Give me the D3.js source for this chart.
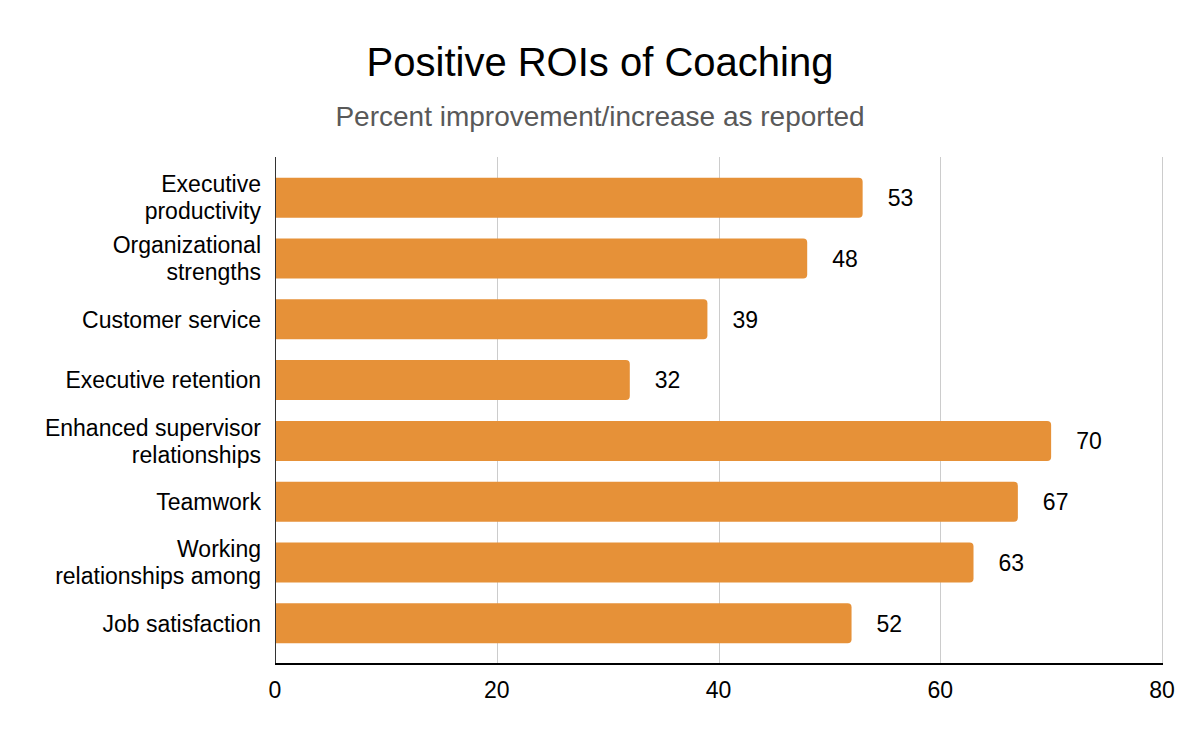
<!DOCTYPE html>
<html>
<head>
<meta charset="utf-8">
<script src="https://cdn.jsdelivr.net/npm/d3@7"></script>
<style>
  body { margin: 0; background: #fff; }
  text { font-family: "Liberation Sans", Arial, sans-serif; }
</style>
</head>
<body>
<div id="chart"></div>
<script>
var categories = [
    "Executive productivity",
    "Organizational strengths",
    "Customer service",
    "Executive retention",
    "Enhanced supervisor relationships",
    "Teamwork",
    "Working relationships among",
    "Job satisfaction"
];
// how each category label wraps on the axis
var labelLines = [
    ["Executive", "productivity"],
    ["Organizational", "strengths"],
    ["Customer service"],
    ["Executive retention"],
    ["Enhanced supervisor", "relationships"],
    ["Teamwork"],
    ["Working", "relationships among"],
    ["Job satisfaction"]
];
var values = [53, 48, 39, 32, 70, 67, 63, 52];
var xTicks = [0, 20, 40, 60, 80];

var width = 1200;
var height = 742;
var plotLeft = 275, plotRight = 1162, plotTop = 157, plotBottom = 664;

var svg = d3.select("#chart").append("svg")
    .attr("width", width)
    .attr("height", height);

svg.append("text")
    .attr("x", 600).attr("y", 76)
    .attr("text-anchor", "middle")
    .attr("font-size", 40)
    .attr("fill", "#000")
    .text("Positive ROIs of Coaching");

svg.append("text")
    .attr("x", 600).attr("y", 126)
    .attr("text-anchor", "middle")
    .attr("font-size", 28)
    .attr("fill", "#595959")
    .text("Percent improvement/increase as reported");

var x = d3.scaleLinear().domain([0, 80]).range([plotLeft, plotRight]);
var y = d3.scaleBand().domain(categories).range([plotTop, plotBottom])
    .paddingInner(0.342).paddingOuter(0.34);

// gridlines
svg.append("g")
    .selectAll("line")
    .data(xTicks.slice(1))
    .enter().append("line")
    .attr("x1", function(d) { return Math.round(x(d)) + 0.5; })
    .attr("x2", function(d) { return Math.round(x(d)) + 0.5; })
    .attr("y1", plotTop)
    .attr("y2", plotBottom)
    .attr("stroke", "#cccccc")
    .attr("stroke-width", 1);

// bars, square at the axis and rounded at the end
var r = 4;
svg.append("g")
    .selectAll("path")
    .data(values)
    .enter().append("path")
    .attr("fill", "#e69138")
    .attr("d", function(d, i) {
        var x0 = x(0), x1 = x(d), y0 = y(categories[i]), h = y.bandwidth();
        return "M" + x0 + "," + y0 +
            "H" + (x1 - r) +
            "Q" + x1 + "," + y0 + " " + x1 + "," + (y0 + r) +
            "V" + (y0 + h - r) +
            "Q" + x1 + "," + (y0 + h) + " " + (x1 - r) + "," + (y0 + h) +
            "H" + x0 + "Z";
    });

// value labels
svg.append("g")
    .selectAll("text")
    .data(values)
    .enter().append("text")
    .attr("x", function(d) { return x(d) + 25; })
    .attr("y", function(d, i) { return y(categories[i]) + y.bandwidth() / 2; })
    .attr("dy", "0.36em")
    .attr("font-size", 23)
    .attr("fill", "#000")
    .text(function(d) { return d; });

// category labels
var cat = svg.append("g")
    .selectAll("text")
    .data(labelLines)
    .enter().append("text")
    .attr("text-anchor", "end")
    .attr("font-size", 23)
    .attr("fill", "#000")
    .attr("transform", function(d, i) {
        return "translate(261," + (y(categories[i]) + y.bandwidth() / 2) + ")";
    });

cat.selectAll("tspan")
    .data(function(d) { return d; })
    .enter().append("tspan")
    .attr("x", 0)
    .attr("y", function(d, j, nodes) {
        var n = nodes.length;
        return (j - (n - 1) / 2) * 27;
    })
    .attr("dy", "0.36em")
    .text(function(d) { return d; });

// axes lines
svg.append("line")
    .attr("x1", plotLeft + 0.5).attr("x2", plotLeft + 0.5)
    .attr("y1", plotTop).attr("y2", plotBottom)
    .attr("stroke", "#333")
    .attr("stroke-width", 1);

svg.append("line")
    .attr("x1", plotLeft).attr("x2", plotRight + 1)
    .attr("y1", plotBottom).attr("y2", plotBottom)
    .attr("stroke", "#000")
    .attr("stroke-width", 2);

// x tick labels
svg.append("g")
    .selectAll("text")
    .data(xTicks)
    .enter().append("text")
    .attr("x", function(d) { return x(d); })
    .attr("y", 698)
    .attr("text-anchor", "middle")
    .attr("font-size", 23)
    .attr("fill", "#000")
    .text(function(d) { return d; });
</script>
</body>
</html>
